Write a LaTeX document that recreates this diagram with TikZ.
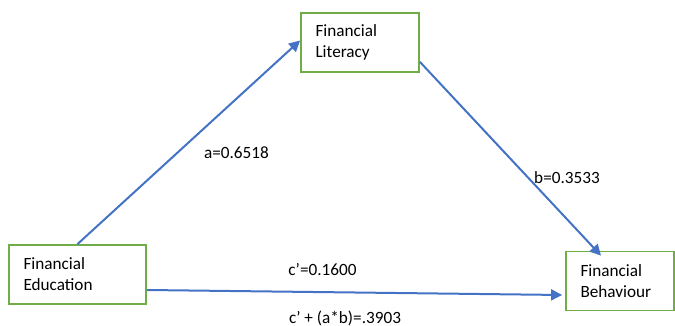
\documentclass[tikz,border=0pt]{standalone}
\usepackage{fontspec}
\setmainfont{Carlito}
\usepackage{tikz}
\usetikzlibrary{arrows.meta,positioning,calc}
\definecolor{marco}{HTML}{70AD47}
\definecolor{flecha}{HTML}{4472C4}

\begin{document}
\begin{tikzpicture}[
          x=1pt, y=1pt,
          font=\fontsize{17.2}{21}\selectfont,
          box/.style={draw=marco, line width=1.8pt, align=left, fill=white,
                      inner xsep=14.5pt, inner ysep=3pt, minimum height=59pt},
          fl/.style={-{Triangle[length=11pt,width=11pt]}, draw=flecha, line width=2pt},
          lbl/.style={inner sep=0pt}
        ]
        \useasboundingbox (0,0) rectangle (675,326);
        \node[box, text width=89pt] (lit) at (360,283.5) {Financial\\Literacy};
        \node[box, text width=108pt] (edu) at (77.5,51.5) {Financial\\Education};
        \node[box, text width=79pt] (beh) at (620,45) {Financial\\Behaviour};
        \draw[fl] (edu.north) -- ([yshift=2pt]lit.west);
        \draw[fl] ([yshift=11pt]lit.south east) -- ([xshift=-19pt,yshift=-5pt]beh.north);
        \draw[fl] ([yshift=-15.5pt]edu.east) -- ([xshift=-3pt,yshift=-14pt]beh.west);
        \node[lbl] (la) at (236.5,173) {a=0.6518};
        \node[lbl] (lb) at (567,148) {b=0.3533};
        \node[lbl] (lc) at (322.5,56) {c’=0.1600};
        \node[lbl] (lt) at (345,8) {c’ + (a*b)=.3903};
      \end{tikzpicture}
\end{document}
